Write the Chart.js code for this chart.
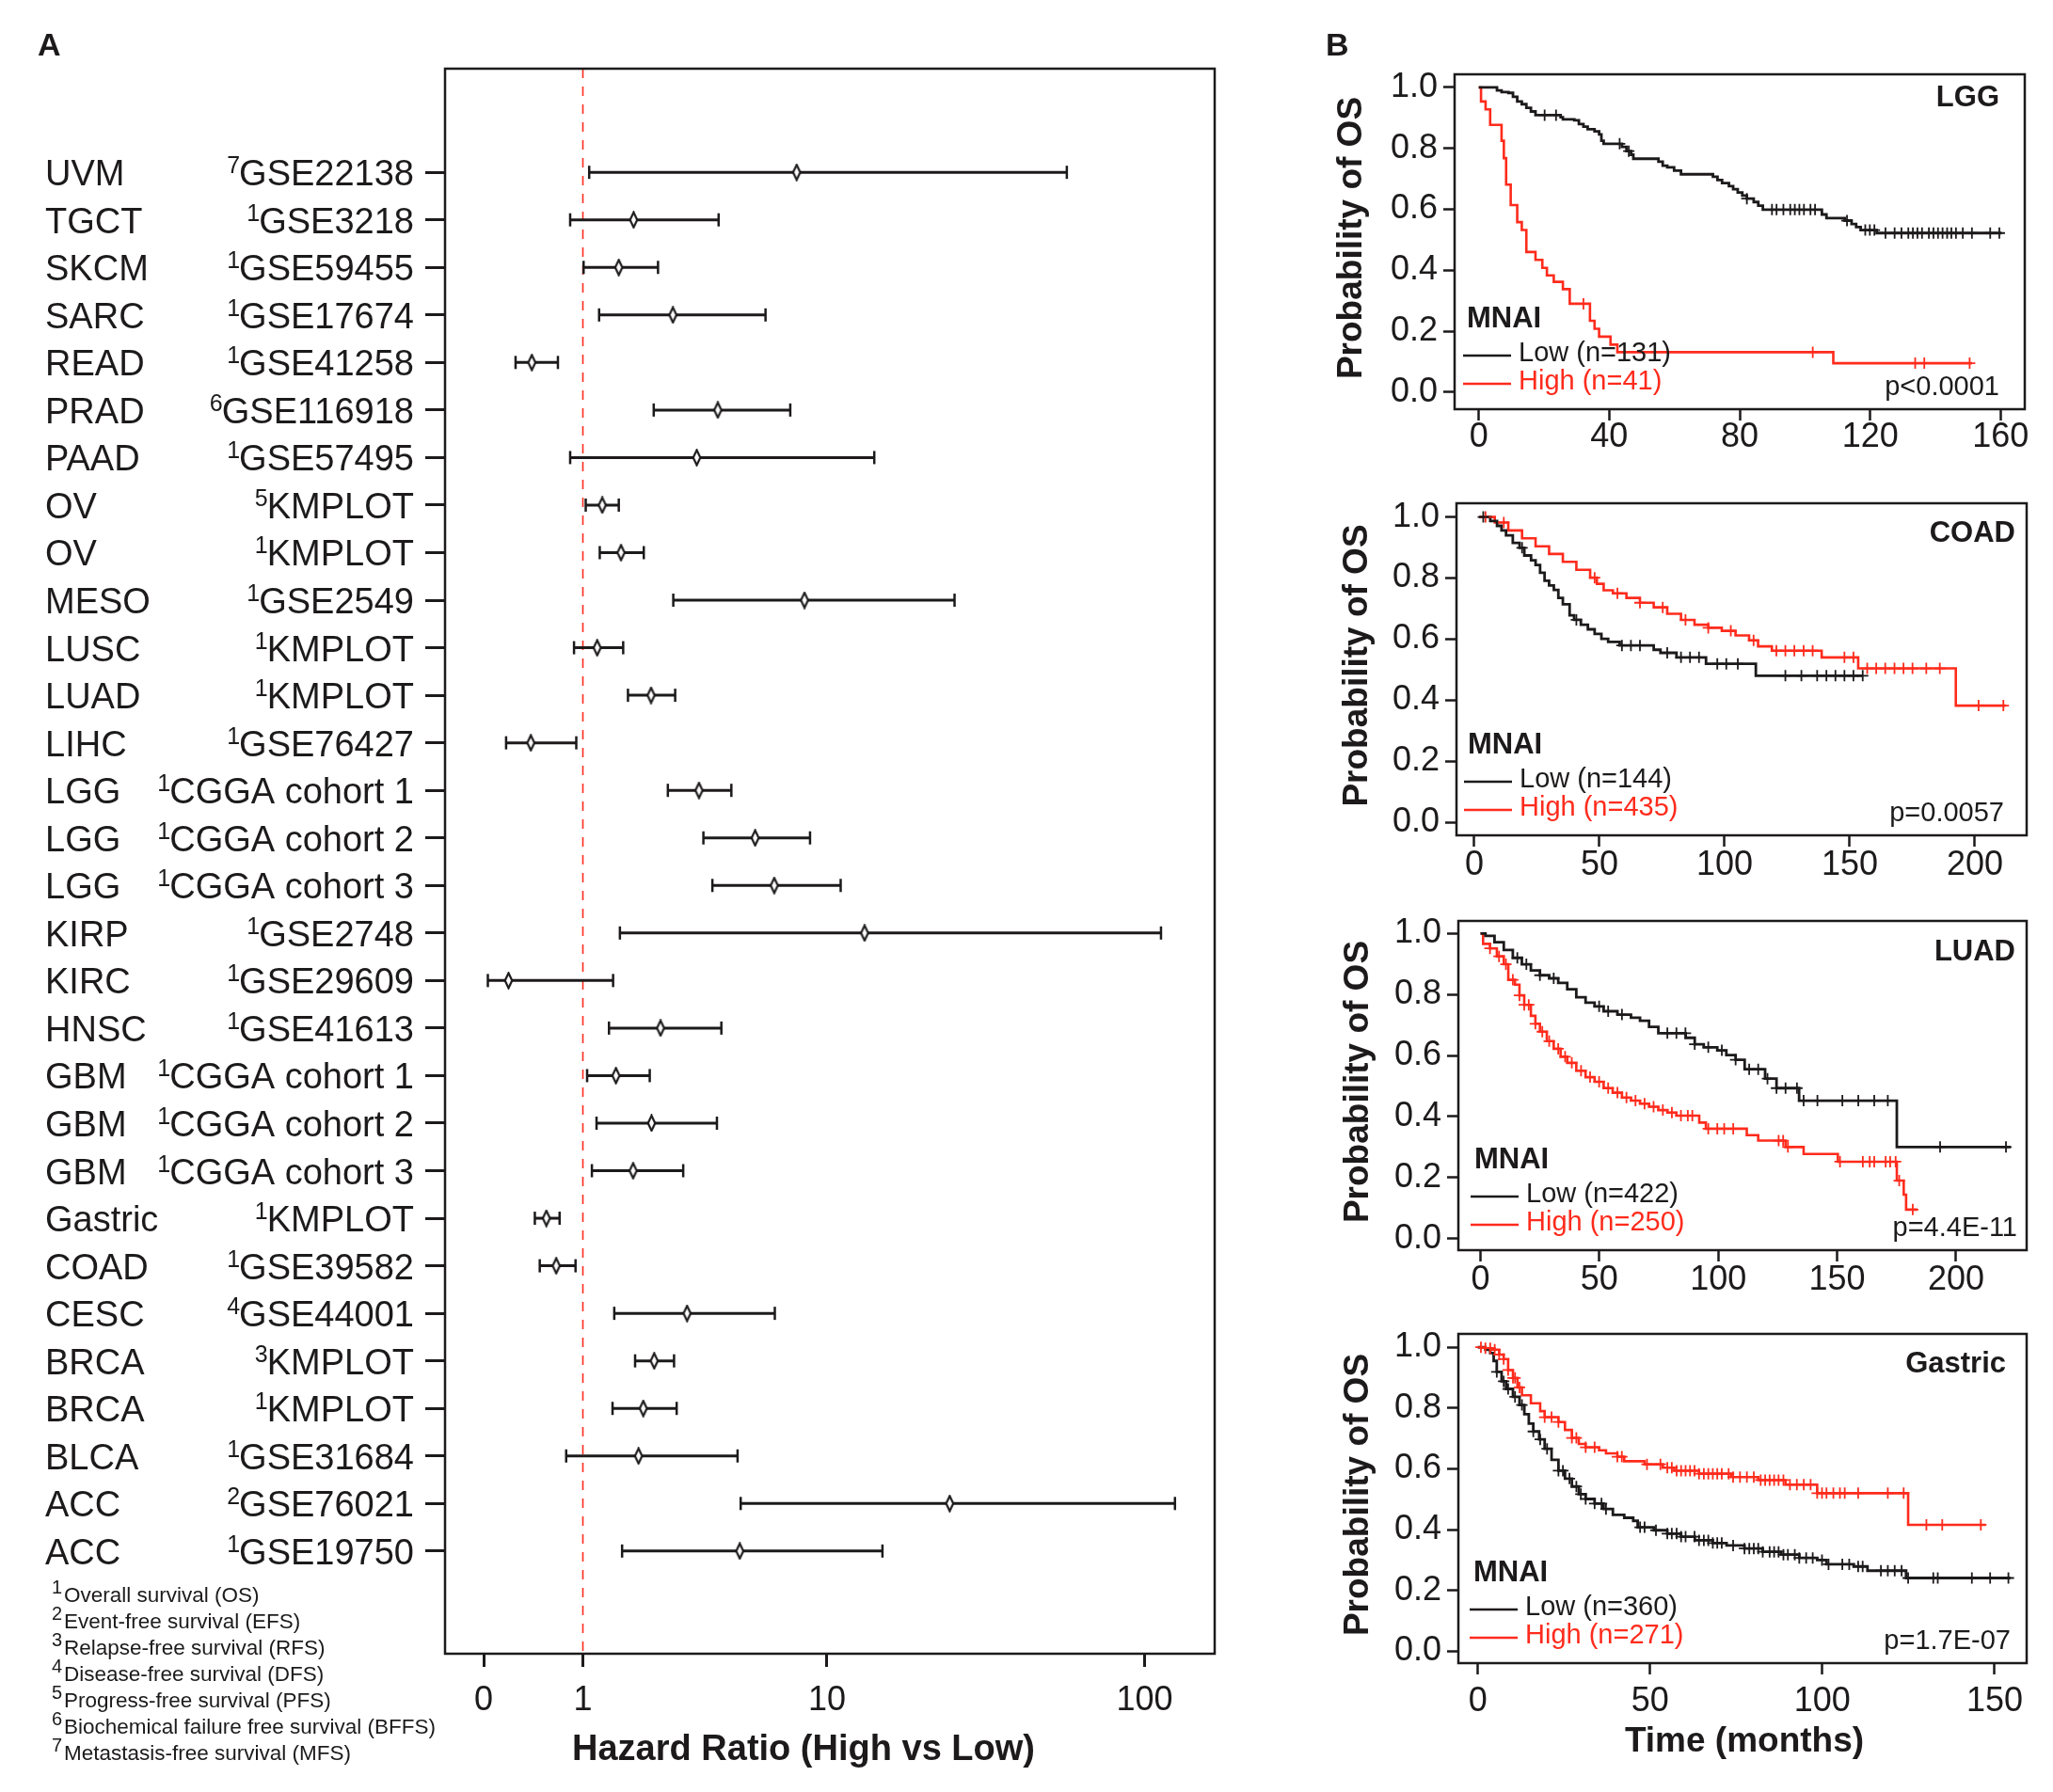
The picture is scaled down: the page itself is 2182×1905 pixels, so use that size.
<!DOCTYPE html>
<html>
<head>
<meta charset="utf-8">
<script src="https://cdn.jsdelivr.net/npm/chart.js@4.4.0/dist/chart.umd.min.js"></script>
<style>
html, body { margin: 0; padding: 0; background: #fff; }
#page { position: relative; width: 2182px; height: 1905px; background: #fff; overflow: hidden; }
canvas { position: absolute; }
</style>
</head>
<body>
<div id="page">
  <canvas id="forest" width="1400" height="1905" style="left:0px;top:0px"></canvas>
  <canvas id="km_lgg" width="782" height="490" style="left:1400px;top:0px"></canvas>
  <canvas id="km_coad" width="782" height="450" style="left:1400px;top:490px"></canvas>
  <canvas id="km_luad" width="782" height="440" style="left:1400px;top:940px"></canvas>
  <canvas id="km_gastric" width="782" height="525" style="left:1400px;top:1380px"></canvas>
</div>
<script>
var FONT = "'Liberation Sans', Arial, sans-serif";
var INK = '#1c1a1a';
var RED = '#ff2b1c';
Chart.defaults.font.family = FONT;
Chart.defaults.color = INK;
Chart.defaults.animation = false;

// ---- panel A : forest plot ----
var cancers = ['UVM','TGCT','SKCM','SARC','READ','PRAD','PAAD','OV','OV','MESO','LUSC','LUAD','LIHC','LGG','LGG','LGG',
  'KIRP','KIRC','HNSC','GBM','GBM','GBM','Gastric','COAD','CESC','BRCA','BRCA','BLCA','ACC','ACC'];
var survType = [7,1,1,1,1,6,1,5,1,1,1,1,1,1,1,1,1,1,1,1,1,1,1,1,4,3,1,1,2,1];
var cohorts = ['GSE22138','GSE3218','GSE59455','GSE17674','GSE41258','GSE116918','GSE57495','KMPLOT','KMPLOT','GSE2549',
  'KMPLOT','KMPLOT','GSE76427','CGGA cohort 1','CGGA cohort 2','CGGA cohort 3','GSE2748','GSE29609','GSE41613',
  'CGGA cohort 1','CGGA cohort 2','CGGA cohort 3','KMPLOT','GSE39582','GSE44001','KMPLOT','KMPLOT','GSE31684','GSE76021','GSE19750'];
var hrPoint = [7.9,1.85,1.57,2.75,0.40,4.13,3.43,1.29,1.61,8.4,1.21,2.22,0.39,3.50,5.66,6.61,13.3,0.19,2.44,1.52,
  2.23,1.84,0.55,0.66,3.14,2.29,2.05,1.95,24.9,4.98];
var hrLower = [1.09,0.83,1.01,1.24,0.25,2.28,0.83,1.04,1.25,2.76,0.88,1.74,0.17,2.62,3.64,3.94,1.59,0.03,1.40,1.06,
  1.20,1.13,0.43,0.48,1.49,1.88,1.46,0.78,5.02,1.63];
var hrUpper = [57.7,4.16,2.38,6.16,0.68,7.51,14.3,1.57,2.06,25.8,1.65,2.81,0.91,4.64,8.77,11.1,112.3,1.47,4.26,2.19,
  4.10,3.03,0.70,0.90,6.64,2.78,2.85,4.89,123.9,15.2];
var hrTicks = [0, 1, 10, 100];
var footnotes = ['Overall survival (OS)','Event-free survival (EFS)','Relapse-free survival (RFS)','Disease-free survival (DFS)',
  'Progress-free survival (PFS)','Biochemical failure free survival (BFFS)','Metastasis-free survival (MFS)'];

// the HR axis is log10(HR + 1), which is why 0 can sit on it
function hrPos(v) { return Math.log10(v + 1); }

var diamond = document.createElement('canvas');
diamond.width = 11; diamond.height = 19;
(function () {
  var c = diamond.getContext('2d');
  c.beginPath(); c.moveTo(5.5, 1.5); c.lineTo(9.3, 9.5); c.lineTo(5.5, 17.5); c.lineTo(1.7, 9.5); c.closePath();
  c.fillStyle = '#fff'; c.fill(); c.lineWidth = 2.2; c.strokeStyle = INK; c.stroke();
})();

var yTop = -2.18, yBottom = 31.16;
var forestSets = [{
  type: 'scatter', order: 0,
  data: hrPoint.map(function (v, i) { return {x: hrPos(v), y: i}; }),
  pointStyle: diamond, pointRadius: 9
}];
for (let i = 0; i < cancers.length; i++) {
  forestSets.push({
    type: 'line', order: 1,
    data: [{x: hrPos(hrLower[i]), y: i}, {x: hrPos(hrUpper[i]), y: i}],
    borderColor: INK, borderWidth: 3,
    pointStyle: 'line', pointRotation: 90, pointRadius: 7, pointBorderWidth: 2.5, pointBorderColor: INK
  });
}
forestSets.push({
  type: 'line', order: 2,
  data: [{x: hrPos(1), y: yTop}, {x: hrPos(1), y: yBottom}],
  borderColor: RED, borderWidth: 1.6, borderDash: [10, 9], pointRadius: 0
});

var forestText = {
  id: 'forestText',
  afterDraw: function (chart) {
    var ctx = chart.ctx, a = chart.chartArea, ys = chart.scales.y;
    ctx.save();
    ctx.strokeStyle = INK; ctx.lineWidth = 2.5;
    ctx.strokeRect(a.left, a.top, a.right - a.left, a.bottom - a.top);
    ctx.fillStyle = INK;
    ctx.textBaseline = 'alphabetic';
    ctx.textAlign = 'left';
    ctx.font = 'bold 34px ' + FONT;
    ctx.fillText('A', 40, 59);
    for (var i = 0; i < cancers.length; i++) {
      var y = ys.getPixelForValue(i);
      ctx.font = '38px ' + FONT;
      ctx.textAlign = 'left';
      ctx.fillText(cancers[i], 48, y + 14);
      ctx.textAlign = 'right';
      ctx.fillText(cohorts[i], 440, y + 14);
      var w = ctx.measureText(cohorts[i]).width;
      ctx.font = '25px ' + FONT;
      ctx.fillText(String(survType[i]), 441 - w, y + 1);
    }
    ctx.textAlign = 'left';
    for (var k = 0; k < footnotes.length; k++) {
      var yb = 1703 + 28 * k;
      ctx.font = '20px ' + FONT;
      ctx.fillText(String(k + 1), 55, yb - 9);
      ctx.font = '22.5px ' + FONT;
      ctx.fillText(footnotes[k], 68, yb);
    }
    ctx.font = 'bold 38px ' + FONT;
    ctx.textAlign = 'center';
    ctx.textBaseline = 'middle';
    ctx.fillText('Hazard Ratio (High vs Low)', 854, 1861);
    ctx.restore();
  }
};

new Chart(document.getElementById('forest'), {
  type: 'line',
  data: {datasets: forestSets},
  plugins: [forestText],
  options: {
    responsive: false, devicePixelRatio: 1, events: [],
    layout: {padding: {top: 73, right: 109, left: 0, bottom: 0}},
    plugins: {legend: {display: false}, tooltip: {enabled: false}},
    scales: {
      x: {
        type: 'linear', min: -0.117, max: 2.217,
        afterBuildTicks: function (s) { s.ticks = hrTicks.map(function (v) { return {value: hrPos(v)}; }); },
        afterFit: function (s) { s.height = 147; },
        ticks: {font: {size: 36, lineHeight: 1}, color: INK, padding: 18,
          callback: function (v, i) { return String(hrTicks[i]); }},
        grid: {drawOnChartArea: false, tickLength: 14, tickWidth: 3, tickColor: INK},
        border: {display: false}
      },
      y: {
        type: 'linear', reverse: true, min: yTop, max: yBottom,
        afterBuildTicks: function (s) { s.ticks = cancers.map(function (c, i) { return {value: i}; }); },
        afterFit: function (s) { s.width = 473; },
        ticks: {display: false},
        grid: {drawOnChartArea: false, tickLength: 21, tickWidth: 3, tickColor: INK},
        border: {display: false}
      }
    }
  }
});

// ---- panel B : Kaplan-Meier curves, [months, survival] ----
var kmYTicks = [0, 0.2, 0.4, 0.6, 0.8, 1.0];

var lggLow = [[0,1],[5.6,0.990],[7.0,0.985],[9.1,0.982],[10.5,0.969],[11.8,0.954],[13.2,0.945],[14.6,0.933],[16.0,0.921],
  [17.4,0.909],[25.1,0.902],[25.8,0.895],[29.3,0.892],[30.7,0.880],[32.1,0.871],[33.4,0.863],[35.5,0.856],[36.9,0.846],
  [37.6,0.825],[38.3,0.815],[43.9,0.805],[45.3,0.791],[46.7,0.779],[47.4,0.766],[55.1,0.756],[56.4,0.743],[57.8,0.738],
  [59.9,0.727],[62.0,0.715],[71.8,0.707],[73.2,0.696],[74.6,0.686],[76.7,0.676],[78.0,0.666],[79.4,0.655],[80.8,0.645],
  [82.2,0.635],[84.3,0.624],[85.7,0.612],[87.1,0.599],[105.2,0.583],[106.6,0.571],[112.2,0.563],[114.3,0.552],
  [115.7,0.542],[117.1,0.532],[122.0,0.522],[160.3,0.522]];
var lggHigh = [[0,1],[0.7,0.954],[2.1,0.928],[3.5,0.877],[7.0,0.825],[7.7,0.768],[8.4,0.681],[9.8,0.614],[11.8,0.558],
  [13.2,0.532],[14.6,0.460],[17.4,0.434],[19.5,0.408],[20.9,0.383],[23.0,0.362],[25.8,0.338],[27.9,0.290],[34.1,0.234],
  [35.5,0.208],[36.9,0.182],[40.4,0.156],[42.5,0.131],[108.7,0.095],[151.2,0.095]];
var lggLowCens = [20.2,23.7,43.2,46.0,82.2,89.9,91.3,93.4,95.5,96.9,98.3,99.7,101.7,103.1,112.9,118.5,119.9,121.3,124.7,
  127.5,129.6,131.7,133.1,134.5,135.9,138.0,139.4,140.8,142.2,143.6,144.9,146.3,148.4,151.2,156.8,159.6];
var lggHighCens = [32.1,102.4,133.8,136.6,150.5];

var coadLow = [[2,1],[6.4,0.987],[9.1,0.971],[10.9,0.956],[12.7,0.940],[15.4,0.915],[18.1,0.899],[20.0,0.874],[22.7,0.858],
  [24.5,0.843],[26.3,0.817],[28.1,0.791],[29.9,0.776],[31.8,0.761],[33.6,0.735],[35.4,0.714],[38.1,0.678],[39.9,0.663],
  [42.6,0.647],[45.4,0.632],[48.1,0.617],[50.8,0.601],[53.5,0.591],[58.1,0.579],[71.7,0.565],[74.4,0.555],[80.8,0.540],
  [92.6,0.519],[112.5,0.480],[155.2,0.480]];
var coadHigh = [[2,1],[8.2,0.982],[13.6,0.956],[19.1,0.930],[24.5,0.904],[29.9,0.879],[35.4,0.853],[40.8,0.827],[46.3,0.801],
  [49.0,0.781],[51.7,0.760],[55.4,0.750],[60.8,0.735],[66.2,0.719],[71.7,0.704],[77.1,0.683],[82.6,0.663],[88.0,0.647],
  [93.5,0.637],[98.9,0.627],[104.4,0.612],[109.8,0.596],[113.4,0.576],[118.9,0.562],[138.8,0.540],[153.4,0.504],
  [192.4,0.382],[212.3,0.382]];
var coadLowCens = [3.6,19.1,40.8,59.0,62.6,66.2,77.1,82.6,86.2,89.8,97.1,100.7,105.3,124.3,130.7,137.0,140.7,144.3,147.9,151.5,155.2];
var coadHighCens = [4.5,11.8,48.1,57.2,66.2,75.3,84.4,93.5,102.5,111.6,120.7,124.3,127.9,131.6,135.2,147.9,151.5,157.0,
  160.6,164.2,167.9,171.5,175.1,180.6,186.0,201.5,211.4];

var luadLow = [[0,1],[2.1,0.992],[5.9,0.971],[9.8,0.946],[13.6,0.920],[17.4,0.899],[21.2,0.879],[25.0,0.863],[28.9,0.853],
  [32.7,0.838],[36.5,0.817],[40.3,0.791],[44.2,0.773],[48.0,0.761],[51.8,0.745],[57.6,0.734],[63.3,0.724],[67.1,0.714],
  [70.9,0.694],[74.8,0.673],[86.3,0.658],[90.1,0.637],[93.9,0.627],[99.6,0.617],[103.4,0.601],[107.3,0.586],[111.1,0.555],
  [119.7,0.524],[124.5,0.493],[134.0,0.452],[175.1,0.300],[222.9,0.300]];
var luadHigh = [[0,1],[1.1,0.966],[4.0,0.951],[6.9,0.925],[9.8,0.899],[11.7,0.848],[14.5,0.832],[16.4,0.797],[18.4,0.766],
  [21.2,0.730],[23.1,0.704],[25.0,0.678],[27.9,0.647],[30.8,0.622],[33.7,0.596],[36.5,0.576],[40.3,0.550],[44.2,0.529],
  [48.0,0.514],[51.8,0.493],[55.6,0.478],[59.5,0.462],[63.3,0.452],[67.1,0.442],[70.9,0.432],[74.8,0.421],[78.6,0.413],
  [82.4,0.403],[92.0,0.380],[94.8,0.360],[112.0,0.339],[116.8,0.321],[128.3,0.300],[135.9,0.277],[150.3,0.252],
  [175.1,0.190],[178.0,0.144],[179.0,0.095],[183.7,0.095]];
var luadLowCens = [15.5,19.3,25.0,30.8,49.9,53.7,59.5,78.6,82.4,86.2,90.1,95.8,101.5,107.3,113.0,116.8,120.7,124.5,128.3,
  133.1,135.9,141.7,152.2,158.9,165.6,171.3,193.3,221.0];
var luadHighCens = [4.0,7.8,10.7,13.6,16.4,18.4,20.3,23.1,26.0,28.9,32.7,35.6,38.4,42.3,46.1,49.9,53.7,57.6,61.4,65.2,69.0,
  72.8,76.7,80.5,84.3,87.2,89.1,95.8,99.6,102.5,106.3,125.4,127.3,129.3,151.2,160.8,163.7,165.6,170.4,172.3,174.6,176.1,181.8];

var gastricLow = [[0,1],[2.2,0.992],[3.6,0.981],[4.6,0.955],[5.5,0.919],[6.9,0.888],[8.2,0.863],[10.2,0.837],[12.1,0.810],
  [13.5,0.780],[14.8,0.749],[16.1,0.723],[17.8,0.697],[19.4,0.666],[21.4,0.630],[23.4,0.594],[25.3,0.568],[27.3,0.542],
  [29.3,0.517],[31.3,0.501],[33.9,0.486],[36.5,0.468],[39.2,0.449],[42.5,0.439],[45.1,0.429],[46.4,0.408],[51.1,0.398],
  [55.0,0.387],[59.0,0.377],[63.0,0.365],[68.2,0.356],[72.2,0.348],[77.4,0.338],[82.7,0.327],[88.0,0.318],[93.3,0.307],
  [98.5,0.300],[101.2,0.286],[109.1,0.279],[113.1,0.265],[124.3,0.241],[154.6,0.241]];
var gastricHigh = [[0,1],[2.2,0.997],[4.2,0.992],[6.2,0.976],[7.5,0.961],[8.8,0.925],[10.2,0.899],[11.5,0.868],[12.8,0.842],
  [15.4,0.816],[18.1,0.790],[19.4,0.770],[23.4,0.754],[25.3,0.728],[27.3,0.702],[29.3,0.682],[31.3,0.671],[35.2,0.661],
  [37.2,0.651],[40.5,0.640],[42.5,0.625],[48.4,0.615],[53.7,0.604],[57.0,0.594],[64.2,0.584],[73.5,0.573],[81.4,0.563],
  [89.3,0.548],[98.5,0.520],[124.9,0.416],[147.4,0.416]];
var gastricLowCens = [5.5,7.5,8.8,10.8,12.8,16.1,18.1,20.1,23.4,24.7,26.6,28.6,29.9,31.3,33.9,35.9,37.2,47.1,48.4,51.7,55.0,
  56.3,57.7,59.0,60.3,62.9,64.2,65.6,66.9,68.2,69.5,70.8,74.1,77.4,78.8,80.1,81.4,82.7,84.7,86.0,87.3,88.7,90.0,92.0,93.3,
  95.3,97.2,99.9,101.8,105.8,107.8,110.4,111.7,117.0,119.0,121.0,123.0,124.9,132.2,133.5,143.4,148.7,154.0];
var gastricHighCens = [0.9,2.2,3.6,4.9,6.2,7.5,8.8,10.2,10.8,12.1,19.4,21.4,23.4,27.3,28.6,31.3,33.9,40.5,41.8,49.1,53.0,
  55.0,56.3,57.7,59.0,60.3,61.6,62.9,64.2,65.6,66.9,68.2,69.5,70.8,72.8,74.1,76.1,78.1,80.1,82.1,83.4,84.7,86.0,87.3,88.7,
  90.6,92.6,94.6,96.6,98.5,99.9,101.2,103.2,105.1,106.5,110.4,119.0,123.6,130.2,134.8,146.0];

// value of a step curve at time t (censor ticks sit on the curve)
function survAt(curve, t) {
  var s = curve[0][1];
  for (var k = 0; k < curve.length; k++) { if (curve[k][0] <= t) s = curve[k][1]; }
  return s;
}

var kmText = {
  id: 'kmText',
  afterDraw: function (chart, args, o) {
    var ctx = chart.ctx, a = chart.chartArea;
    ctx.save();
    ctx.strokeStyle = INK; ctx.lineWidth = 2.5;
    ctx.strokeRect(a.left, a.top, a.right - a.left, a.bottom - a.top);
    ctx.fillStyle = INK;
    ctx.textBaseline = 'middle';
    ctx.font = 'bold 31px ' + FONT;
    ctx.textAlign = 'right';
    ctx.fillText(o.name, a.right - o.nameDx, a.top + o.nameDy);
    ctx.font = '29px ' + FONT;
    ctx.fillText(o.p, a.right - o.pDx, a.bottom - 23);
    var mx = a.left + o.mnaiDx;
    ctx.textAlign = 'left';
    ctx.font = 'bold 31px ' + FONT;
    ctx.fillText('MNAI', mx, a.bottom - 96);
    ctx.lineWidth = 2.5;
    ctx.beginPath(); ctx.moveTo(mx - 4, a.bottom - 57); ctx.lineTo(mx + 47, a.bottom - 57); ctx.stroke();
    ctx.strokeStyle = RED;
    ctx.beginPath(); ctx.moveTo(mx - 4, a.bottom - 27); ctx.lineTo(mx + 47, a.bottom - 27); ctx.stroke();
    ctx.font = '29px ' + FONT;
    ctx.fillText('Low (n=' + o.nLow + ')', mx + 55, a.bottom - 59);
    ctx.fillStyle = RED;
    ctx.fillText('High (n=' + o.nHigh + ')', mx + 55, a.bottom - 29);
    ctx.fillStyle = INK;
    ctx.save();
    ctx.translate(o.titleX - 1400, (a.top + a.bottom) / 2 - 4);
    ctx.rotate(-Math.PI / 2);
    ctx.textAlign = 'center';
    ctx.font = 'bold 37px ' + FONT;
    ctx.fillText('Probability of OS', 0, 0);
    ctx.restore();
    if (o.showB) {
      ctx.textBaseline = 'alphabetic';
      ctx.font = 'bold 34px ' + FONT;
      ctx.fillText('B', 9, 59);
    }
    if (o.showTime) {
      ctx.textAlign = 'center';
      ctx.font = 'bold 37px ' + FONT;
      ctx.fillText('Time (months)', 1854 - 1400, 1852 - o.top);
    }
    ctx.restore();
  }
};

function kmChart(id, p) {
  function pts(curve) { return curve.map(function (d) { return {x: d[0], y: d[1]}; }); }
  function cens(curve, times) { return times.map(function (t) { return {x: t, y: survAt(curve, t)}; }); }
  return new Chart(document.getElementById(id), {
    type: 'line',
    data: {datasets: [
      {type: 'scatter', order: 0, data: cens(p.low, p.lowCens), pointStyle: 'cross', pointRadius: 6,
        borderColor: INK, pointBorderWidth: 1.8},
      {type: 'scatter', order: 1, data: cens(p.high, p.highCens), pointStyle: 'cross', pointRadius: 6,
        borderColor: RED, pointBorderWidth: 1.8},
      {order: 2, data: pts(p.low), stepped: 'before', borderColor: INK, borderWidth: 2.8, pointRadius: 0},
      {order: 3, data: pts(p.high), stepped: 'before', borderColor: RED, borderWidth: 2.6, pointRadius: 0}
    ]},
    plugins: [kmText],
    options: {
      responsive: false, devicePixelRatio: 1, events: [],
      layout: {padding: {top: p.T - p.top, right: 2182 - p.R, left: 0, bottom: 0}},
      plugins: {legend: {display: false}, tooltip: {enabled: false}, kmText: p},
      scales: {
        x: {
          type: 'linear', min: p.xMin, max: p.xMax,
          afterBuildTicks: function (s) { s.ticks = p.xTicks.map(function (v) { return {value: v}; }); },
          afterFit: function (s) { s.height = p.canvasH - (p.B - p.top); },
          ticks: {font: {size: 36, lineHeight: 1}, color: INK, padding: p.xPad},
          grid: {drawOnChartArea: false, tickLength: 12, tickWidth: 2.5, tickColor: INK},
          border: {display: false}
        },
        y: {
          type: 'linear', min: p.yMin, max: p.yMax,
          afterBuildTicks: function (s) { s.ticks = kmYTicks.map(function (v) { return {value: v}; }); },
          afterFit: function (s) { s.width = p.L - 1400; },
          ticks: {font: {size: 36}, color: INK, padding: 6, callback: function (v) { return v.toFixed(1); }},
          grid: {drawOnChartArea: false, tickLength: 12, tickWidth: 2.5, tickColor: INK},
          border: {display: false}
        }
      }
    }
  });
}

kmChart('km_lgg', {low: lggLow, high: lggHigh, lowCens: lggLowCens, highCens: lggHighCens,
  top: 0, canvasH: 490, L: 1546, T: 79, R: 2152, B: 435, xMin: -7.4, xMax: 167.4, yMin: -0.056, yMax: 1.043,
  xTicks: [0, 40, 80, 120, 160], xPad: 0,
  name: 'LGG', nameDx: 27, nameDy: 25, nLow: 131, nHigh: 41, p: 'p<0.0001', pDx: 27, mnaiDx: 13, titleX: 1437, showB: true});
kmChart('km_coad', {low: coadLow, high: coadHigh, lowCens: coadLowCens, highCens: coadHighCens,
  top: 490, canvasH: 450, L: 1548, T: 535, R: 2154, B: 888, xMin: -7.1, xMax: 220.7, yMin: -0.043, yMax: 1.045,
  xTicks: [0, 50, 100, 150, 200], xPad: 2,
  name: 'COAD', nameDx: 12, nameDy: 32, nLow: 144, nHigh: 435, p: 'p=0.0057', pDx: 24, mnaiDx: 12, titleX: 1443});
kmChart('km_luad', {low: luadLow, high: luadHigh, lowCens: luadLowCens, highCens: luadHighCens,
  top: 940, canvasH: 440, L: 1550, T: 979, R: 2154, B: 1329, xMin: -9.3, xMax: 229.7, yMin: -0.038, yMax: 1.041,
  xTicks: [0, 50, 100, 150, 200], xPad: 2,
  name: 'LUAD', nameDx: 12, nameDy: 33, nLow: 422, nHigh: 250, p: 'p=4.4E-11', pDx: 10, mnaiDx: 17, titleX: 1444});
kmChart('km_gastric', {low: gastricLow, high: gastricHigh, lowCens: gastricLowCens, highCens: gastricHighCens,
  top: 1380, canvasH: 525, L: 1550, T: 1418, R: 2154, B: 1768, xMin: -5.65, xMax: 159.3, yMin: -0.039, yMax: 1.044,
  xTicks: [0, 50, 100, 150], xPad: 11,
  name: 'Gastric', nameDx: 22, nameDy: 32, nLow: 360, nHigh: 271, p: 'p=1.7E-07', pDx: 17, mnaiDx: 16, titleX: 1444, showTime: true});
</script>
</body>
</html>
